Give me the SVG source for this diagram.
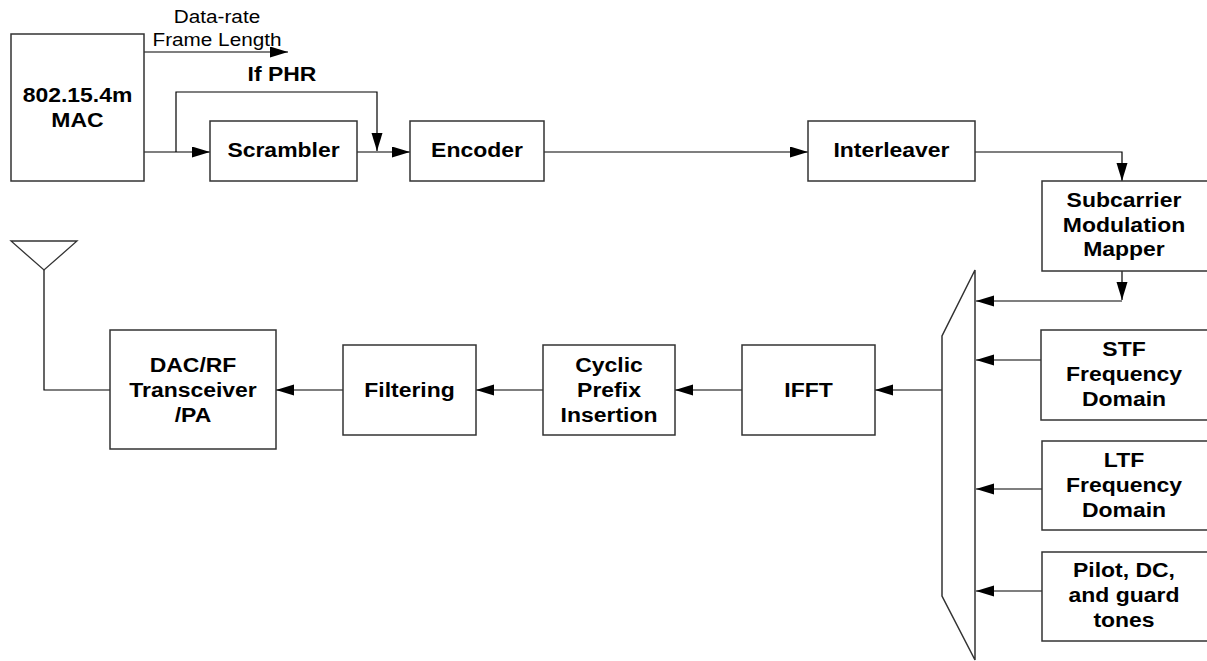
<svg xmlns="http://www.w3.org/2000/svg" width="1207" height="661" viewBox="0 0 1207 661">
<style>
  .box { fill: #fff; stroke: #333; stroke-width: 1.5; }
  .t { font-family: "Liberation Sans", Arial, sans-serif; font-weight: bold; font-size: 20.5px; text-anchor: middle; fill: #000; }
  .n { font-family: "Liberation Sans", Arial, sans-serif; font-size: 18.5px; text-anchor: middle; fill: #000; }
  .ln { fill: none; stroke: #000; stroke-width: 1.2; }
  .ar { marker-end: url(#arr); }
</style>
<defs>
  <marker id="arr" markerUnits="userSpaceOnUse" markerWidth="19" markerHeight="12" refX="18" refY="5.5" orient="auto">
    <path d="M0,0 L18,5.5 L0,11 z" fill="#000"/>
  </marker>
</defs>
<rect width="1207" height="661" fill="#fff"/>

<g id="connectors">
  <path class="ln ar" d="M144,52 H288"/>
  <path class="ln ar" d="M144,152 H210"/>
  <path class="ln ar" d="M176,152 V92 H377 V151"/>
  <path class="ln ar" d="M357,152 H410"/>
  <path class="ln ar" d="M544,152 H808"/>
  <path class="ln ar" d="M975,152 H1122 V181"/>
  <path class="ln ar" d="M1122,271 V300"/>
  <path class="ln ar" d="M1122,301 H976"/>
  <path class="ln ar" d="M1041,360 H976"/>
  <path class="ln ar" d="M1042,489 H976"/>
  <path class="ln ar" d="M1042,591 H976"/>
  <path class="ln ar" d="M942,390 H875"/>
  <path class="ln ar" d="M742,390 H675"/>
  <path class="ln ar" d="M543,390 H476"/>
  <path class="ln ar" d="M343,390 H276"/>
  <path class="ln" d="M110,390 H44 V270"/>
</g>

<g id="label-datarate" transform="translate(217,0) scale(1.12,1)">
  <text class="n" x="0" y="23">Data-rate</text>
  <text class="n" x="0" y="46">Frame Length</text>
</g>
<g id="label-ifphr" transform="translate(282,0) scale(1.12,1)">
  <text class="t" x="0" y="81">If PHR</text>
</g>

<g id="mac">
  <rect class="box" x="11" y="34" width="133" height="147"/>
  <g transform="translate(77.5,0) scale(1.12,1)">
    <text class="t" x="0" y="102">802.15.4m</text>
    <text class="t" x="0" y="127">MAC</text>
  </g>
</g>
<g id="scrambler">
  <rect class="box" x="210" y="121" width="147" height="60"/>
  <g transform="translate(283.5,0) scale(1.12,1)"><text class="t" x="0" y="157">Scrambler</text></g>
</g>
<g id="encoder">
  <rect class="box" x="410" y="121" width="134" height="60"/>
  <g transform="translate(477,0) scale(1.12,1)"><text class="t" x="0" y="157">Encoder</text></g>
</g>
<g id="interleaver">
  <rect class="box" x="808" y="121" width="167" height="60"/>
  <g transform="translate(891.5,0) scale(1.12,1)"><text class="t" x="0" y="157">Interleaver</text></g>
</g>
<g id="mapper">
  <rect class="box" x="1042" y="181" width="175" height="90"/>
  <g transform="translate(1124,0) scale(1.12,1)">
    <text class="t" x="0" y="207">Subcarrier</text>
    <text class="t" x="0" y="232">Modulation</text>
    <text class="t" x="0" y="256">Mapper</text>
  </g>
</g>
<g id="mux">
  <polygon points="975,270 942,336 942,596 975,660" fill="#fff" stroke="#333" stroke-width="1.5"/>
</g>
<g id="stf">
  <rect class="box" x="1041" y="330" width="176" height="90"/>
  <g transform="translate(1124,0) scale(1.12,1)">
    <text class="t" x="0" y="356">STF</text>
    <text class="t" x="0" y="381">Frequency</text>
    <text class="t" x="0" y="406">Domain</text>
  </g>
</g>
<g id="ltf">
  <rect class="box" x="1042" y="441" width="175" height="89"/>
  <g transform="translate(1124,0) scale(1.12,1)">
    <text class="t" x="0" y="467">LTF</text>
    <text class="t" x="0" y="492">Frequency</text>
    <text class="t" x="0" y="517">Domain</text>
  </g>
</g>
<g id="pilot">
  <rect class="box" x="1042" y="552" width="175" height="89"/>
  <g transform="translate(1124,0) scale(1.12,1)">
    <text class="t" x="0" y="577">Pilot, DC,</text>
    <text class="t" x="0" y="602">and guard</text>
    <text class="t" x="0" y="627">tones</text>
  </g>
</g>
<g id="ifft">
  <rect class="box" x="742" y="345" width="133" height="90"/>
  <g transform="translate(808.5,0) scale(1.12,1)"><text class="t" x="0" y="397">IFFT</text></g>
</g>
<g id="cyclic">
  <rect class="box" x="543" y="345" width="132" height="90"/>
  <g transform="translate(609,0) scale(1.12,1)">
    <text class="t" x="0" y="372">Cyclic</text>
    <text class="t" x="0" y="397">Prefix</text>
    <text class="t" x="0" y="422">Insertion</text>
  </g>
</g>
<g id="filtering">
  <rect class="box" x="343" y="345" width="133" height="90"/>
  <g transform="translate(409.5,0) scale(1.12,1)"><text class="t" x="0" y="397">Filtering</text></g>
</g>
<g id="dac">
  <rect class="box" x="110" y="330" width="166" height="119"/>
  <g transform="translate(193,0) scale(1.12,1)">
    <text class="t" x="0" y="372">DAC/RF</text>
    <text class="t" x="0" y="397">Transceiver</text>
    <text class="t" x="0" y="422">/PA</text>
  </g>
</g>
<g id="antenna">
  <polygon points="11,241 77,241 44,270" fill="none" stroke="#333" stroke-width="1.3"/>
</g>
</svg>
